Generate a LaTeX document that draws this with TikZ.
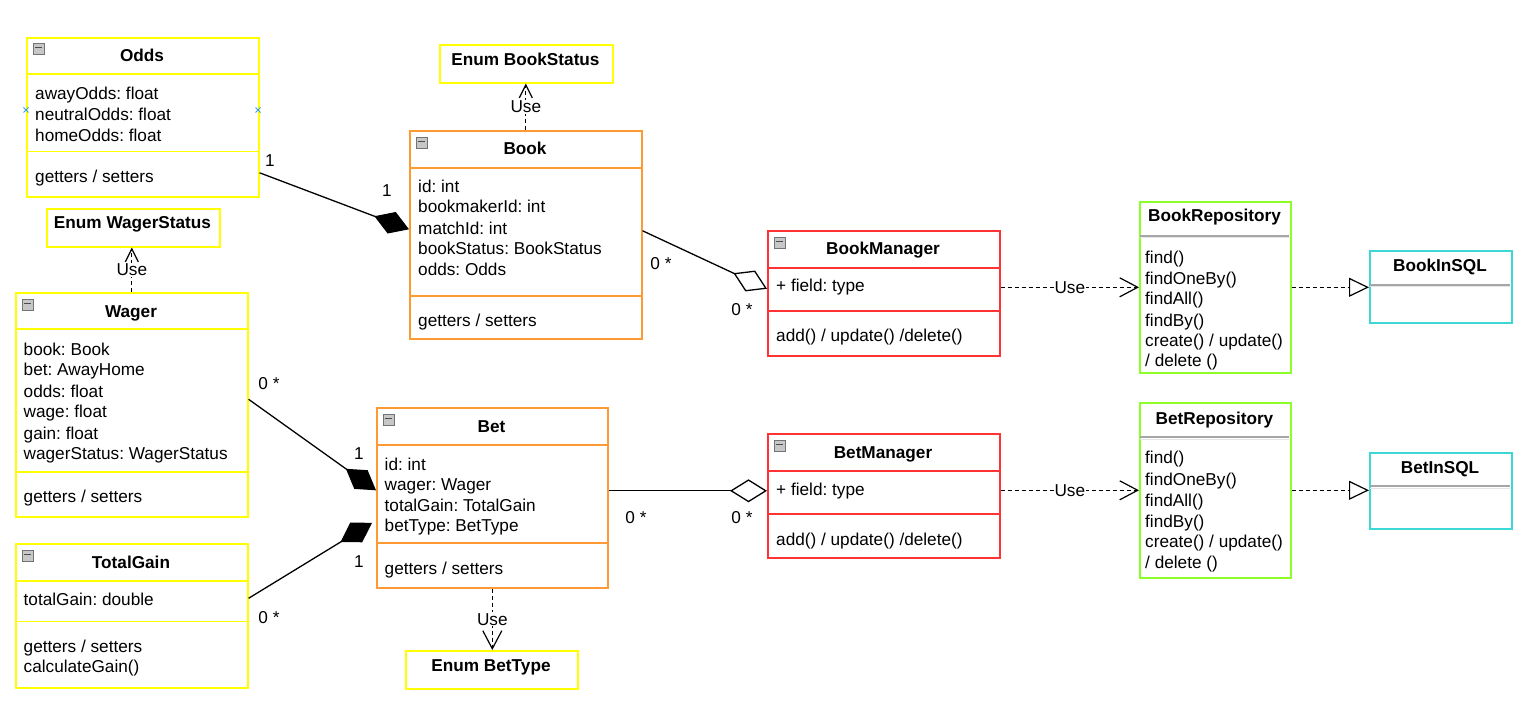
\documentclass[tikz,border=0pt]{standalone}
\usepackage{fontspec}
\setmainfont{Liberation Sans}
\usetikzlibrary{arrows.meta}
\definecolor{cyel}{RGB}{255,255,0}
\definecolor{cora}{RGB}{255,153,51}
\definecolor{cred}{RGB}{255,51,51}
\definecolor{cgrn}{RGB}{140,255,40}
\definecolor{ccyn}{RGB}{60,215,215}
\definecolor{cblu}{RGB}{51,153,255}
\newcommand{\fs}{\fontsize{17.2}{21}\selectfont\frenchspacing}
\newcommand{\classbox}[6]{\node[umlbox, draw=#6, minimum width=#4pt, minimum height=#5pt] (#1) at (#2,#3) {};}
\newcommand{\sepline}[4]{\draw[line width=1.6pt, #4] (#1,#3) -- ({#1+#2},#3);}
\newcommand{\repsep}[3]{\draw[line width=1.6pt, black!35] ({#1+1},#3) -- ({#1+#2-1},#3);\draw[line width=1pt, black!10] ({#1+1},{#3+2}) -- ({#1+#2-1},{#3+2});}
\newcommand{\minusicon}[2]{\draw[fill=black!22, draw=black!55, line width=0.9pt] (#1,#2) rectangle ++(11,11);\draw[line width=1.3pt, black!70] ({#1+2},{#2+4.5}) -- ({#1+9},{#2+4.5});}
\tikzset{
  umlbox/.style={anchor=north west, inner sep=0pt, line width=1.6pt, fill=white},
  txt/.style={anchor=base west, inner sep=0pt, font=\fs},
  ttl/.style={anchor=base, inner sep=0pt, font=\fs\bfseries},
  mult/.style={anchor=center, inner sep=0pt, font=\fs},
  uselbl/.style={fill=white, inner sep=1pt, font=\fs},
  conn/.style={line width=1.3pt, black},
  usedash/.style={line width=1.2pt, black, dash pattern=on 4pt off 3pt},
  fdiam/.style={-{Diamond[length=37pt,width=23pt]}},
  hdiam/.style={-{Diamond[length=37pt,width=23pt,fill=white]}},
  bigbarb/.style={-{Straight Barb[length=18pt,width=19pt]}},
  smallbarb/.style={-{Straight Barb[length=13pt,width=13pt]}},
  tri/.style={-{Triangle[length=20pt,width=19pt,fill=white]}}
}
\begin{document}
\begin{tikzpicture}[x=1pt,y=-1pt]
\useasboundingbox (0,0) rectangle (1531,703);
\fill[white] (0,0) rectangle (1531,703);

% ---------- boxes ----------
\classbox{odds}{26}{37}{232}{159}{cyel}
\sepline{26}{232}{74}{cyel}\sepline{26}{232}{151.5}{cyel}
\minusicon{33}{43}
\node[ttl] (oddsT) at (142,62) {Odds};
\node[txt] (oddsA1) at (35,100) {awayOdds: float};
\node[txt] (oddsA2) at (35,121) {neutralOdds: float};
\node[txt] (oddsA3) at (35,141.7) {homeOdds: float};
\node[txt] (oddsM1) at (35,182.7) {getters / setters};
\draw[cblu, line width=0.8pt] (23.5,107.5) -- (28.5,112.5) (23.5,112.5) -- (28.5,107.5);
\draw[cblu, line width=0.8pt] (255.5,107.5) -- (260.5,112.5) (255.5,112.5) -- (260.5,107.5);

\classbox{bookstatus}{439}{44}{173}{38}{cyel}
\node[ttl] (bookstatusT) at (525.5,65.7) {Enum BookStatus};

\classbox{book}{409}{130}{232}{208}{cora}
\sepline{409}{232}{168}{cora}\sepline{409}{232}{296}{cora}
\minusicon{416}{137}
\node[ttl] (bookT) at (525,154.3) {Book};
\node[txt] (bookA1) at (418,192.7) {id: int};
\node[txt] (bookA2) at (418,212.7) {bookmakerId: int};
\node[txt] (bookA3) at (418,235) {matchId: int};
\node[txt] (bookA4) at (418,255) {bookStatus: BookStatus};
\node[txt] (bookA5) at (418,276) {odds: Odds};
\node[txt] (bookM1) at (418,326.7) {getters / setters};

\classbox{wagerstatus}{46}{208}{173}{38}{cyel}
\node[ttl] (wagerstatusT) at (132.5,229) {Enum WagerStatus};

\classbox{wager}{15}{292}{232}{224}{cyel}
\sepline{15}{232}{329}{cyel}\sepline{15}{232}{472}{cyel}
\minusicon{22}{299}
\node[ttl] (wagerT) at (131,317.7) {Wager};
\node[txt] (wagerA1) at (23.5,355.7) {book: Book};
\node[txt] (wagerA2) at (23.5,375.7) {bet: AwayHome};
\node[txt] (wagerA3) at (23.5,397.7) {odds: float};
\node[txt] (wagerA4) at (23.5,417.7) {wage: float};
\node[txt] (wagerA5) at (23.5,439.3) {gain: float};
\node[txt] (wagerA6) at (23.5,459.3) {wagerStatus: WagerStatus};
\node[txt] (wagerM1) at (23.5,502.3) {getters / setters};

\classbox{totalgain}{15}{543}{232}{144}{cyel}
\sepline{15}{232}{581}{cyel}\sepline{15}{232}{621.5}{cyel}
\minusicon{22}{550}
\node[ttl] (totalgainT) at (131,568.3) {TotalGain};
\node[txt] (totalgainA1) at (23.5,605.7) {totalGain: double};
\node[txt] (totalgainM1) at (23.5,652.7) {getters / setters};
\node[txt] (totalgainM2) at (23.5,672.7) {calculateGain()};

\classbox{bet}{376}{407}{231}{180}{cora}
\sepline{376}{231}{445}{cora}\sepline{376}{231}{543}{cora}
\minusicon{383}{414}
\node[ttl] (betT) at (491.5,432.3) {Bet};
\node[txt] (betA1) at (384.5,470) {id: int};
\node[txt] (betA2) at (384.5,490) {wager: Wager};
\node[txt] (betA3) at (384.5,511.7) {totalGain: TotalGain};
\node[txt] (betA4) at (384.5,531.7) {betType: BetType};
\node[txt] (betM1) at (384.5,574) {getters / setters};

\classbox{bettype}{405}{650}{172}{38}{cyel}
\node[ttl] (bettypeT) at (491,671.7) {Enum BetType};

\classbox{bookmgr}{767}{230}{232}{125}{cred}
\sepline{767}{232}{268}{cred}\sepline{767}{232}{311}{cred}
\minusicon{774}{237}
\node[ttl] (bookmgrT) at (883,255) {BookManager};
\node[txt] (bookmgrA1) at (776,291.7) {+ field: type};
\node[txt] (bookmgrM1) at (776,341.7) {add() / update() /delete()};

\classbox{betmgr}{767}{433}{232}{124}{cred}
\sepline{767}{232}{471}{cred}\sepline{767}{232}{514}{cred}
\minusicon{774}{440}
\node[ttl] (betmgrT) at (883,458.3) {BetManager};
\node[txt] (betmgrA1) at (776,495) {+ field: type};
\node[txt] (betmgrM1) at (776,545) {add() / update() /delete()};

\classbox{bookrepo}{1139}{201}{151}{171}{cgrn}
\repsep{1139}{151}{236}
\node[ttl] (bookrepoT) at (1214.5,221.7) {BookRepository};
\node[txt] (bookrepoM1) at (1145,263.3) {find()};
\node[txt] (bookrepoM2) at (1145,284) {findOneBy()};
\node[txt] (bookrepoM3) at (1145,305) {findAll()};
\node[txt] (bookrepoM4) at (1145,326.7) {findBy()};
\node[txt] (bookrepoM5) at (1145,346.7) {create() / update()};
\node[txt] (bookrepoM6) at (1145,366.7) {/ delete ()};

\classbox{betrepo}{1139}{402}{151}{175}{cgrn}
\repsep{1139}{151}{437}
\node[ttl] (betrepoT) at (1214.5,424.3) {BetRepository};
\node[txt] (betrepoM1) at (1145,463.3) {find()};
\node[txt] (betrepoM2) at (1145,485) {findOneBy()};
\node[txt] (betrepoM3) at (1145,506.7) {findAll()};
\node[txt] (betrepoM4) at (1145,527.7) {findBy()};
\node[txt] (betrepoM5) at (1145,547.7) {create() / update()};
\node[txt] (betrepoM6) at (1145,568.3) {/ delete ()};

\classbox{bookinsql}{1369}{250}{142}{72}{ccyn}
\repsep{1369}{142}{285}
\node[ttl] (bookinsqlT) at (1440,271.7) {BookInSQL};

\classbox{betinsql}{1369}{452}{142}{76}{ccyn}
\repsep{1369}{142}{486}
\node[ttl] (betinsqlT) at (1440,473.3) {BetInSQL};

% ---------- connectors ----------
\draw[conn, fdiam] ([yshift=-55.5pt]odds.east) -- ([yshift=5.5pt]book.west);
\draw[conn, hdiam] ([yshift=4pt]book.east) -- ([yshift=4.5pt]bookmgr.west);
\draw[conn, fdiam] ([yshift=5.5pt]wager.east) -- ([yshift=7.5pt]bet.west);
\draw[conn, fdiam] ([yshift=17.5pt]totalgain.east) -- ([xshift=-4pt,yshift=-25pt]bet.west);
\draw[conn, hdiam] ([yshift=7pt]bet.east) -- ([yshift=5pt]betmgr.west);

\draw[usedash, smallbarb] (book.north) -- (book.north |- bookstatus.south) node[uselbl, midway] (use1) {Use};
\draw[usedash, smallbarb] (wager.north) -- (wager.north |- wagerstatus.south) node[uselbl, midway] (use2) {Use};
\draw[usedash, bigbarb] (bet.south) -- (bet.south |- bettype.north) node[uselbl, midway] (use3) {Use};
\draw[usedash, bigbarb] (bookmgr.east |- bookrepo.west) -- (bookrepo.west) node[uselbl, midway] (use4) {Use};
\draw[usedash, bigbarb] (betmgr.east |- betrepo.west) -- (betrepo.west) node[uselbl, midway] (use5) {Use};
\draw[usedash, tri] (bookrepo.east) -- (bookrepo.east -| bookinsql.west);
\draw[usedash, tri] (betrepo.east) -- (betrepo.east -| betinsql.west);

% ---------- multiplicities ----------
\node[mult] (m1) at (270,160.5) {1};
\node[mult] (m2) at (387,190.5) {1};
\node[mult] (m3) at (661,264) {0 *};
\node[mult] (m4) at (742,310) {0 *};
\node[mult] (m5) at (269,384) {0 *};
\node[mult] (m6) at (359,454) {1};
\node[mult] (m7) at (359,562) {1};
\node[mult] (m8) at (269,618) {0 *};
\node[mult] (m9) at (636,518) {0 *};
\node[mult] (m10) at (742,518) {0 *};
\end{tikzpicture}
\end{document}
